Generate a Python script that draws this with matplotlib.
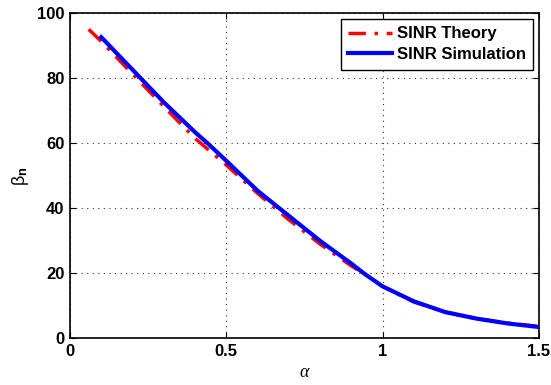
import matplotlib
matplotlib.use("Agg")
import matplotlib.pyplot as plt
import numpy as np

# Data
alpha_theory = [0.06, 0.1, 0.2, 0.3, 0.4, 0.5, 0.6, 0.7, 0.8, 0.9, 0.95, 1.0, 1.1, 1.2, 1.3, 1.4, 1.5]
sinr_theory = [95.0, 91.3, 81.3, 71.3, 61.5, 53.3, 44.6, 36.5, 29.0, 22.3, 19.3, 16.0, 11.2, 8.1, 6.1, 4.7, 3.7]

alpha_sim = [0.1, 0.2, 0.3, 0.4, 0.44, 0.5, 0.6, 0.67, 0.8, 0.9, 0.94, 1.0, 1.1, 1.2, 1.3, 1.4, 1.5]
sinr_sim = [92.6, 82.6, 72.6, 63.4, 60.0, 54.6, 45.4, 40.0, 30.0, 23.0, 20.0, 16.0, 11.4, 8.1, 6.1, 4.6, 3.5]

xticks = [0, 0.5, 1, 1.5]
yticks = [0, 20, 40, 60, 80, 100]

plt.rcParams['mathtext.fontset'] = 'custom'
plt.rcParams['mathtext.rm'] = 'Liberation Sans'
plt.rcParams['mathtext.it'] = 'Liberation Serif:italic'
plt.rcParams['mathtext.bf'] = 'Liberation Sans:bold'

fig = plt.figure(figsize=(5.51, 3.85), dpi=100)
ax = fig.add_axes([0.127, 0.121, 0.851, 0.845])

ax.plot(alpha_theory, sinr_theory, color='red', linestyle=(0, (5, 2.5, 1, 2.5)), linewidth=2.5,
        label='SINR Theory', zorder=3)
ax.plot(alpha_sim, sinr_sim, color='blue', linestyle='-', linewidth=3,
        label='SINR Simulation', zorder=4)

ax.set_xlim(0, 1.5)
ax.set_ylim(0, 100)
ax.set_xticks(xticks)
ax.set_xticklabels(['0', '0.5', '1', '1.5'])
ax.set_yticks(yticks)

for lab in ax.get_xticklabels() + ax.get_yticklabels():
    lab.set_fontfamily('Liberation Sans')
    lab.set_fontweight('bold')
    lab.set_fontsize(12)

ax.tick_params(direction='in', top=True, right=True, length=4, width=0.8, pad=4)
ax.grid(True, linestyle=(0, (1, 4)), color='#333333', linewidth=0.8)
for s in ax.spines.values():
    s.set_linewidth(1.2)

ax.set_xlabel(r'$\mathit{\alpha}$', fontsize=13, labelpad=3)
ax.set_ylabel(r'$\mathrm{\beta}_{\mathbf{n}}$', fontsize=13, labelpad=4)

leg = ax.legend(loc='upper right', prop={'family': 'Liberation Sans', 'weight': 'bold', 'size': 12},
                fancybox=False, edgecolor='black', framealpha=1, handlelength=2.6,
                borderaxespad=0.35, borderpad=0.45, labelspacing=0.35, handletextpad=0.3)
leg.get_frame().set_linewidth(1.0)

fig.savefig('out.png', dpi=100)
